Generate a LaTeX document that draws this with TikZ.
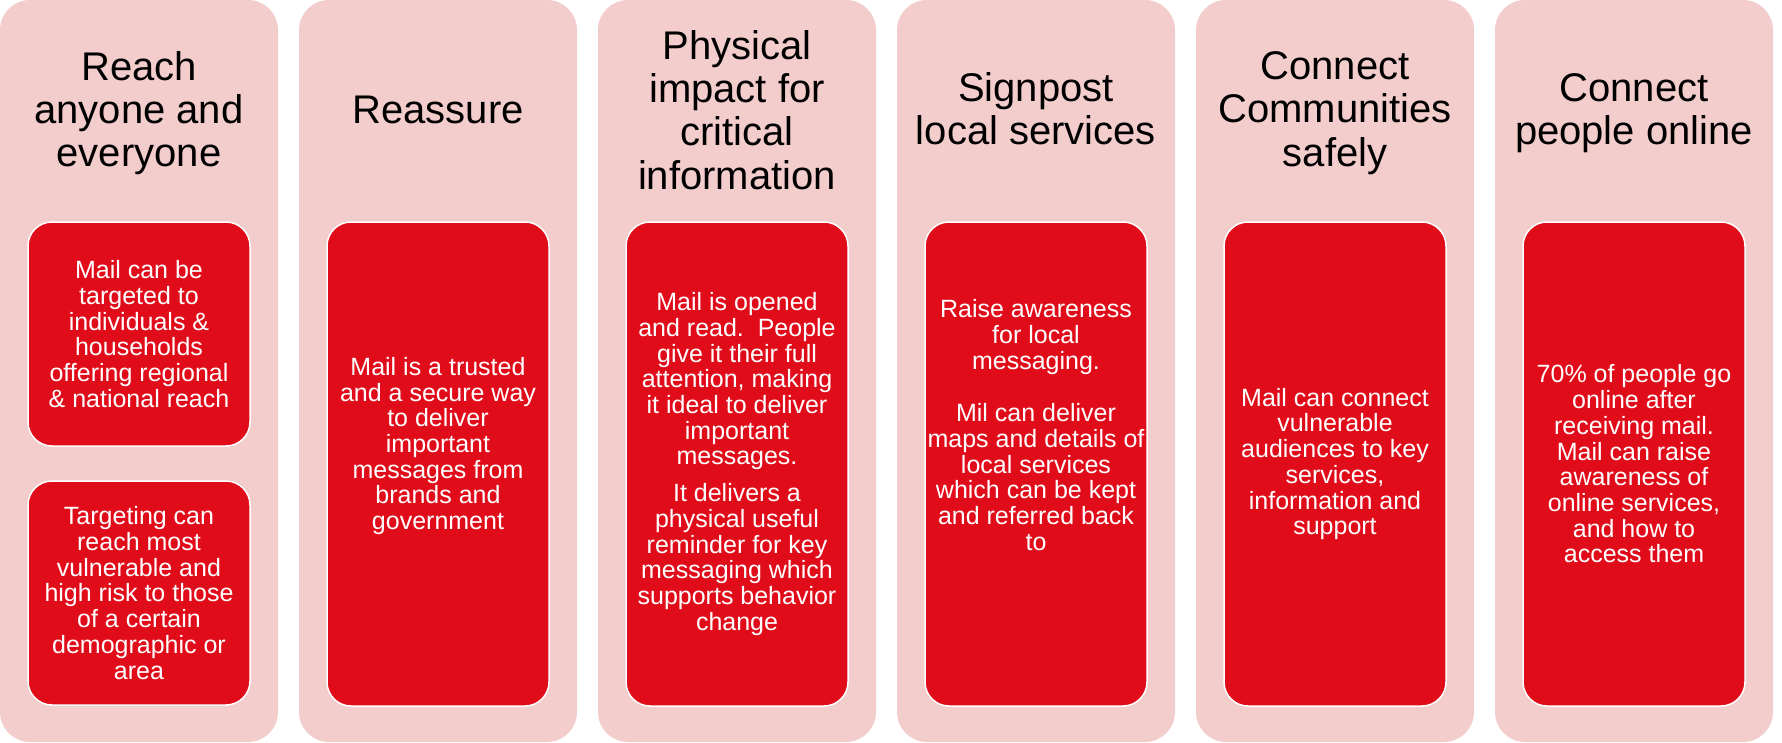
\documentclass[tikz,border=0pt]{standalone}
\usepackage{fontspec}
\setmainfont{Liberation Sans}
\definecolor{colpink}{RGB}{243,204,204}
\definecolor{boxred}{RGB}{225,12,26}

\begin{document}
\begin{tikzpicture}[x=1pt,y=-1pt,
    column/.style={fill=colpink,rounded corners=30pt,minimum width=278pt,minimum height=742pt,inner sep=0pt,outer sep=0pt},
    redbox/.style={fill=boxred,draw=white,line width=1.5pt,rounded corners=24pt,minimum width=222pt,inner sep=0pt},
    heading/.style={align=center,text=black,inner sep=0pt,font=\fontsize{40}{43.3}\selectfont},
    boxtext/.style={align=center,text=white,inner sep=0pt,font=\fontsize{25}{25.7}\selectfont}]
    \useasboundingbox (0,0) rectangle (1782,742);
    \foreach \i/\x in {1/139,2/438,3/737,4/1036,5/1335,6/1634}{% one pink column each
        \node[column] (Col\i) at (\x,371) {};
    }

    %---------------------------------------------------------------%
    \node[heading] (TitleReach) at (139,113) {Reach\\anyone and\\everyone};
    \node[redbox,minimum height=224pt] (BoxReachA) at (139,334) {};
    \node[redbox,minimum height=224pt] (BoxReachB) at (139,593) {};
    \node[boxtext] (TextReachA) at (139,334) {Mail can be\\targeted to\\individuals \&\\households\\offering regional\\\& national reach};
    \node[boxtext] (TextReachB) at (139,593) {Targeting can\\reach most\\vulnerable and\\high risk to those\\of a certain\\demographic or\\area};
    %---------------------------------------------------------------%
    \node[heading] (TitleReassure) at (438,110) {Reassure};
    \node[redbox,minimum height=484pt] (BoxReassure) at (438,464) {};
    \node[boxtext] (TextReassure) at (438,446) {Mail is a trusted\\and a secure way\\to deliver\\important\\messages from\\brands and\\government};
    %---------------------------------------------------------------%
    \node[heading] (TitlePhysical) at (737,110) {Physical\\impact for\\critical\\information};
    \node[redbox,minimum height=484pt] (BoxPhysical) at (737,464) {};
    \node[boxtext] (TextPhysical) at (737,464) {Mail is opened\\and read.\ \ People\\give it their full\\attention, making\\it ideal to deliver\\important\\messages.\\[11pt]It delivers a\\physical useful\\reminder for key\\messaging which\\supports behavior\\change};
    %---------------------------------------------------------------%
    \node[heading] (TitleSignpost) at (1036,109) {Signpost\\local services};
    \node[redbox,minimum height=484pt] (BoxSignpost) at (1036,464) {};
    \node[boxtext] (TextSignpost) at (1036,425) {Raise awareness\\for local\\messaging.\\[27pt]Mil can deliver\\maps and details of\\local services\\which can be kept\\and referred back\\to};
    %---------------------------------------------------------------%
    \node[heading] (TitleCommunities) at (1335,113) {Connect\\Communities\\safely};
    \node[redbox,minimum height=484pt] (BoxCommunities) at (1335,464) {};
    \node[boxtext] (TextCommunities) at (1335,464) {Mail can connect\\vulnerable\\audiences to key\\services,\\information and\\support};
    %---------------------------------------------------------------%
    \node[heading] (TitleOnline) at (1634,113) {Connect\\people online};
    \node[redbox,minimum height=484pt] (BoxOnline) at (1634,464) {};
    \node[boxtext] (TextOnline) at (1634,464) {70\% of people go\\online after\\receiving mail.\\Mail can raise\\awareness of\\online services,\\and how to\\access them};
    %---------------------------------------------------------------%
\end{tikzpicture}
\end{document}
